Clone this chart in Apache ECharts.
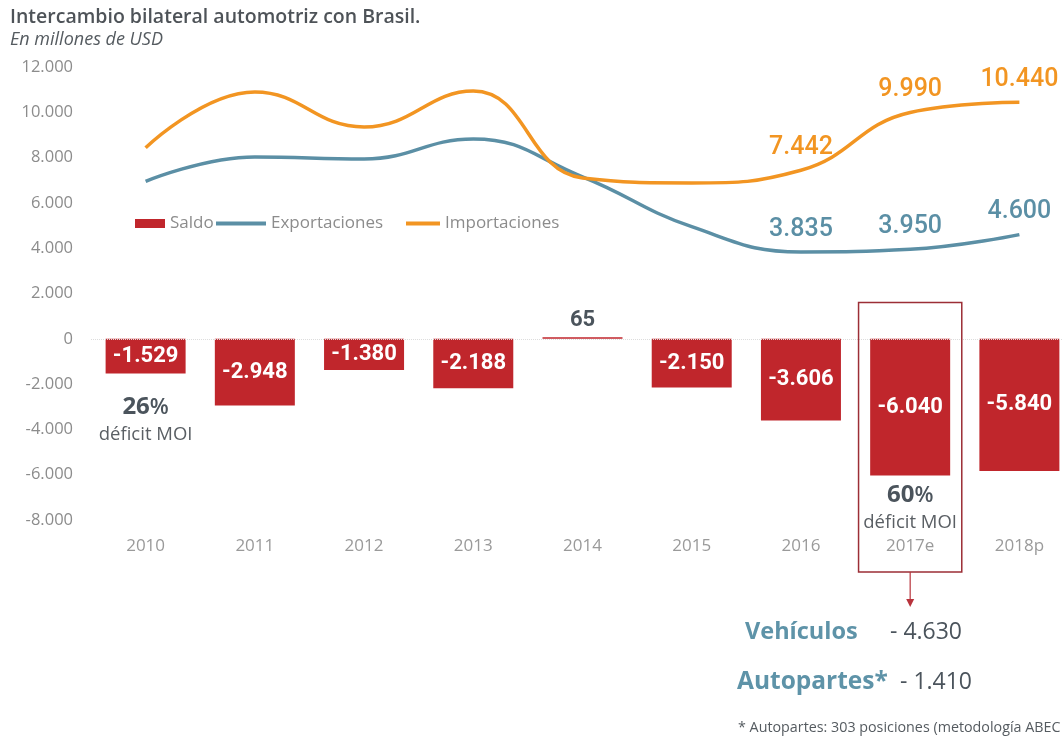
<!DOCTYPE html>
<html>
<head>
<meta charset="utf-8">
<script src="https://cdn.jsdelivr.net/npm/echarts@6/dist/echarts.min.js"></script>
<style>
  html, body { margin: 0; padding: 0; background: #fff; }
  #chart { width: 1062px; height: 740px; }
</style>
</head>
<body>
<div id="chart"></div>
<script>
// Bilateral automotive trade with Brazil, millions of USD
const categories = ['2010', '2011', '2012', '2013', '2014', '2015', '2016', '2017e', '2018p'];
const saldo = [-1529, -2948, -1380, -2188, 65, -2150, -3606, -6040, -5840];
const exportaciones = [6950, 8030, 7940, 8820, 7150, 4950, 3835, 3950, 4600];
const importaciones = [8430, 10900, 9350, 10940, 7100, 6880, 7442, 9990, 10440];
const yTicks = { min: -8000, max: 12000, step: 2000 };

// MOI deficit notes under selected bars
const moiNotes = [
  { cat: '2010', pct: '26' },
  { cat: '2017e', pct: '60' }
];
// 2017e balance breakdown
const breakdown = [
  { name: 'Vehículos', value: -4630 },
  { name: 'Autopartes*', value: -1410 }
];
const footnote = '* Autopartes: 303 posiciones (metodología ABEC';

const RED = '#c0262c';
const BLUE = '#5b8fa5';
const ORANGE = '#f29522';
const GREY_TEXT = '#8c8c8c';

function fmt(v) {
  const s = Math.abs(v).toString().replace(/\B(?=(\d{3})+(?!\d))/g, '.');
  return (v < 0 ? '-' : '') + s;
}

const firstLabeled = categories.indexOf('2016');

function lineData(values, color) {
  return values.map((v, i) => i >= firstLabeled
    ? { value: v, label: { show: true, color: color } }
    : v);
}

const barData = saldo.map(v => v >= 0
  ? { value: v, label: { position: 'top', color: '#4b545c', distance: 6 } }
  : v);

const legendText = { fontFamily: 'Open Sans', fontSize: 17, color: GREY_TEXT };

const chart = echarts.init(document.getElementById('chart'), null, { renderer: 'canvas' });

const lineLabel = {
  show: false,
  position: 'top',
  distance: 10,
  fontFamily: 'Roboto',
  fontWeight: 500,
  fontSize: 25,
  formatter: p => fmt(p.value)
};

const option = {
  backgroundColor: '#ffffff',
  animation: false,
  title: {
    text: 'Intercambio bilateral automotriz con Brasil.',
    subtext: 'En millones de USD',
    left: 5,
    top: 2,
    itemGap: 4,
    textStyle: { fontFamily: 'Open Sans', fontWeight: 600, fontSize: 19.5, color: '#4e5358' },
    subtextStyle: { fontFamily: 'Open Sans', fontStyle: 'italic', fontSize: 18, color: '#555b60' }
  },
  legend: [
    {
      left: 135, top: 215, padding: 0, itemWidth: 30, itemHeight: 9,
      textStyle: legendText,
      data: [{ name: 'Saldo', icon: 'rect' }]
    },
    {
      left: 216, top: 215, padding: 0, itemWidth: 50, itemHeight: 4,
      textStyle: legendText,
      data: [{ name: 'Exportaciones', icon: 'rect' }]
    },
    {
      left: 406, top: 215, padding: 0, itemWidth: 34, itemHeight: 4,
      textStyle: legendText,
      data: [{ name: 'Importaciones', icon: 'rect' }]
    }
  ],
  grid: { left: 91, width: 983, top: 67, height: 453, outerBoundsMode: 'none' },
  xAxis: {
    type: 'category',
    data: categories,
    axisLine: { show: false, onZero: false },
    axisTick: { show: false },
    axisLabel: { margin: 18, fontFamily: 'Open Sans', fontSize: 17, color: '#9a9a9a' }
  },
  yAxis: {
    type: 'value',
    min: yTicks.min,
    max: yTicks.max,
    interval: yTicks.step,
    splitLine: { show: false },
    axisLine: { show: false },
    axisTick: { show: false },
    axisLabel: { margin: 18, fontFamily: 'Open Sans', fontSize: 16.5, color: GREY_TEXT, formatter: fmt }
  },
  series: [
    {
      name: 'Saldo',
      type: 'bar',
      data: barData,
      barWidth: 80,
      itemStyle: { color: RED },
      label: {
        show: true,
        position: 'inside',
        color: '#ffffff',
        fontFamily: 'Roboto',
        fontWeight: 'bold',
        fontSize: 22,
        formatter: p => fmt(p.value)
      },
      markLine: {
        silent: true,
        symbol: 'none',
        label: { show: false },
        lineStyle: { color: '#dcdcdc', type: 'dotted', width: 1 },
        data: [{ yAxis: 0 }]
      },
      z: 2
    },
    {
      name: 'Exportaciones',
      type: 'line',
      data: lineData(exportaciones, BLUE),
      smooth: 0.45,
      symbol: 'circle',
      symbolSize: 0,
      showSymbol: true,
      lineStyle: { color: BLUE, width: 3.5 },
      itemStyle: { color: BLUE },
      label: lineLabel,
      z: 3
    },
    {
      name: 'Importaciones',
      type: 'line',
      data: lineData(importaciones, ORANGE),
      smooth: 0.45,
      symbol: 'circle',
      symbolSize: 0,
      showSymbol: true,
      lineStyle: { color: ORANGE, width: 3.5 },
      itemStyle: { color: ORANGE },
      label: lineLabel,
      z: 4
    }
  ]
};

chart.setOption(option);

// Annotations placed relative to the axes
const graphics = [];
const band = chart.convertToPixel({ xAxisIndex: 0 }, categories[1]) - chart.convertToPixel({ xAxisIndex: 0 }, categories[0]);
const axisBottom = chart.convertToPixel({ yAxisIndex: 0 }, yTicks.min);

moiNotes.forEach((n, k) => {
  const idx = categories.indexOf(n.cat);
  const [cx, by] = chart.convertToPixel({ seriesIndex: 0 }, [idx, saldo[idx]]);
  const gap = k === 0 ? 34 : 20;
  graphics.push({
    type: 'text',
    style: {
      x: cx, y: by + gap, align: 'center', verticalAlign: 'middle',
      text: '{n|' + n.pct + '}{p|%}',
      rich: {
        n: { fontFamily: 'Open Sans', fontWeight: 'bold', fontSize: 24, fill: '#4b545c' },
        p: { fontFamily: 'Open Sans', fontWeight: 600, fontSize: 22, fill: '#4b545c' }
      }
    },
    z: 10
  });
  graphics.push({
    type: 'text',
    style: {
      x: cx, y: by + gap + 27, align: 'center', verticalAlign: 'middle',
      text: 'déficit MOI',
      font: '18.5px "Open Sans"', fill: '#5a5f64'
    },
    z: 10
  });
});

// Highlight box around the 2017e estimate with a pointer to its breakdown
const hi = categories.indexOf('2017e');
const hx = chart.convertToPixel({ xAxisIndex: 0 }, categories[hi]);
const boxTop = chart.convertToPixel({ yAxisIndex: 0 }, 1600);
const boxBottom = axisBottom + 52;
graphics.push({
  type: 'rect',
  shape: { x: hx - band / 2 + 3, y: boxTop, width: band - 6, height: boxBottom - boxTop },
  style: { fill: 'none', stroke: '#9c2e36', lineWidth: 1.5 },
  z: 10
});
graphics.push({
  type: 'line',
  shape: { x1: hx, y1: boxBottom, x2: hx, y2: boxBottom + 30 },
  style: { stroke: '#b8333c', lineWidth: 1.2 },
  z: 10
});
graphics.push({
  type: 'polygon',
  shape: { points: [[hx - 4, boxBottom + 27], [hx + 4, boxBottom + 27], [hx, boxBottom + 35]] },
  style: { fill: '#b8333c' },
  z: 10
});

breakdown.forEach((b, k) => {
  const y = 632 + k * 50;
  graphics.push({
    type: 'text',
    style: {
      x: k === 0 ? 745 : 737, y: y, verticalAlign: 'middle',
      text: b.name,
      font: (k === 0 ? 'bold 23.5px' : 'bold 24.5px') + ' "Open Sans"', fill: '#5e93a8'
    }
  });
  graphics.push({
    type: 'text',
    style: {
      x: k === 0 ? 890 : 900, y: y, verticalAlign: 'middle',
      text: '- ' + fmt(Math.abs(b.value)),
      font: '23px "Open Sans"', fill: '#4b545c'
    }
  });
});

graphics.push({
  type: 'text',
  style: {
    x: 738, y: 728, verticalAlign: 'middle',
    text: footnote,
    font: '14.3px "Open Sans"', fill: '#555b60'
  }
});

chart.setOption({ graphic: graphics });
</script>
</body>
</html>
